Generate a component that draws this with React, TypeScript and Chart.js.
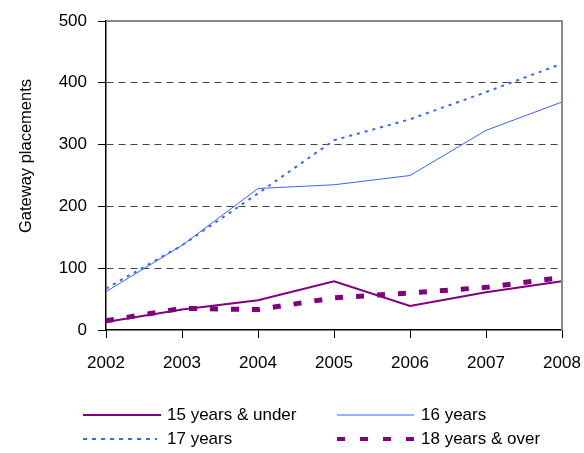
import React, { useEffect, useRef } from "react";
import { Chart, registerables } from "chart.js";

Chart.register(...registerables);

const years = ["2002", "2003", "2004", "2005", "2006", "2007", "2008"];
const under15 = [13, 33, 48, 79, 39, 61, 79];
const age16 = [62, 137, 229, 235, 250, 323, 369];
const age17 = [67, 137, 221, 307, 341, 385, 431];
const over18 = [15, 35, 33, 52, 60, 69, 85];
const seriesNames = ["15 years & under", "16 years", "17 years", "18 years & over"];
const yTicks = [0, 100, 200, 300, 400, 500];
const yTitle = "Gateway placements";

const PURPLE = "#800080";
const BLUE = "#3366FF";
const FONT = '"Liberation Sans", Arial, sans-serif';

const styles = [
  { color: PURPLE, width: 2, dash: [] as number[] },
  { color: BLUE, width: 1, dash: [] as number[] },
  { color: BLUE, width: 2, dash: [3, 5] },
  { color: PURPLE, width: 5, dash: [8, 13] },
];

const overlay = {
  id: "overlay",
  afterDraw(chart: any) {
    const { ctx, chartArea } = chart;
    ctx.save();
    ctx.strokeStyle = "#8a8a8a";
    ctx.lineWidth = 2;
    ctx.setLineDash([]);
    ctx.beginPath();
    ctx.moveTo(chartArea.left, chartArea.top);
    ctx.lineTo(chartArea.right, chartArea.top);
    ctx.lineTo(chartArea.right, chartArea.bottom);
    ctx.stroke();

    ctx.fillStyle = "#000";
    ctx.font = `16.5px ${FONT}`;
    ctx.textAlign = "center";
    ctx.textBaseline = "middle";
    ctx.translate(26, 156);
    ctx.rotate(-Math.PI / 2);
    ctx.fillText(yTitle, 0, 0);
    ctx.restore();

    ctx.save();
    const pos = [
      { x0: 83, x1: 161, tx: 167, y: 415 },
      { x0: 337, x1: 414, tx: 421, y: 415 },
      { x0: 83, x1: 157, tx: 167, y: 439 },
      { x0: 337, x1: 414, tx: 421, y: 439 },
    ];
    ctx.font = `17px ${FONT}`;
    ctx.textAlign = "left";
    ctx.textBaseline = "middle";
    seriesNames.forEach((name, i) => {
      const p = pos[i];
      const s = styles[i];
      ctx.strokeStyle = s.color;
      ctx.lineWidth = i === 3 ? 4 : s.width;
      ctx.setLineDash(i === 2 ? [4, 5] : i === 3 ? [8, 15] : []);
      ctx.beginPath();
      ctx.moveTo(p.x0, p.y);
      ctx.lineTo(p.x1, p.y);
      ctx.stroke();
      ctx.fillStyle = "#000";
      ctx.fillText(name, p.tx, p.y);
    });
    ctx.restore();
  },
};

export default function App() {
  const ref = useRef<HTMLCanvasElement>(null);
  useEffect(() => {
    document.body.style.margin = "0";
    const data = [under15, age16, age17, over18];
    const chart = new Chart(ref.current!, {
      type: "line",
      data: {
        labels: years,
        datasets: seriesNames.map((name, i) => ({
          label: name,
          data: data[i],
          borderColor: styles[i].color,
          backgroundColor: styles[i].color,
          borderWidth: styles[i].width,
          borderDash: styles[i].dash,
          pointRadius: 0,
          tension: 0,
          fill: false,
          borderCapStyle: "butt" as const,
        })),
      },
      options: {
        animation: false,
        responsive: true,
        maintainAspectRatio: false,
        layout: { padding: { top: 21, right: 22, bottom: 78, left: 0 } },
        plugins: { legend: { display: false }, tooltip: { enabled: false } },
        scales: {
          x: {
            type: "category",
            offset: false,
            afterFit: (s: any) => {
              s.height = 45;
              s.paddingLeft = 0;
              s.paddingRight = 0;
            },
            grid: {
              drawOnChartArea: false,
              drawTicks: true,
              tickLength: 8,
              tickColor: "#000",
              tickWidth: 1,
            },
            border: { display: true, color: "#000", width: 1.5 },
            ticks: {
              color: "#000",
              font: { family: FONT, size: 17 },
              padding: 15,
              maxRotation: 0,
              autoSkip: false,
            },
          },
          y: {
            min: 0,
            max: 500,
            afterFit: (s: any) => {
              s.width = 106;
              s.paddingTop = 0;
              s.paddingBottom = 0;
            },
            afterBuildTicks: (s: any) => {
              s.ticks = yTicks.map((v) => ({ value: v }));
            },
            grid: {
              color: (c: any) =>
                c.tick && (c.tick.value === 0 || c.tick.value === 500) ? "rgba(0,0,0,0)" : "#444",
              lineWidth: 1,
              drawTicks: true,
              tickLength: 8,
              tickColor: "#000",
              tickWidth: 1,
              tickBorderDash: [],
            },
            border: { display: true, color: "#000", width: 1.5, dash: [7, 5] },
            ticks: {
              color: "#000",
              font: { family: FONT, size: 17 },
              padding: 11,
            },
          },
        },
      },
      plugins: [overlay],
    });
    return () => chart.destroy();
  }, []);
  return (
    <div style={{ position: "relative", width: 584, height: 453 }}>
      <canvas ref={ref} />
    </div>
  );
}
